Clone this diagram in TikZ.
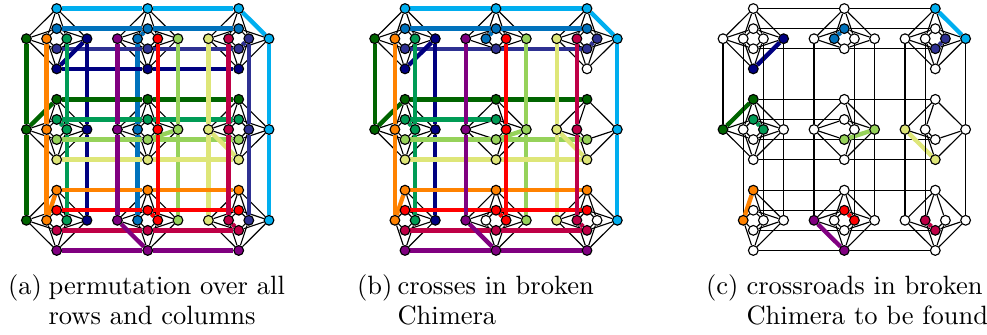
\documentclass[tikz,border=0pt]{standalone}
\usetikzlibrary{backgrounds}
\definecolor{csky}{RGB}{0,174,239}
\definecolor{cblue}{RGB}{0,114,188}
\definecolor{cindigo}{RGB}{46,49,146}
\definecolor{cnavy}{RGB}{0,0,128}
\definecolor{cdg}{RGB}{0,100,0}
\definecolor{cteal}{RGB}{0,155,85}
\definecolor{clg}{RGB}{150,210,90}
\definecolor{cyel}{RGB}{222,230,120}
\definecolor{corange}{RGB}{255,130,0}
\definecolor{cred}{RGB}{255,0,0}
\definecolor{ccrim}{RGB}{190,0,70}
\definecolor{cpurple}{RGB}{128,0,128}
\tikzset{
  qubit/.style={circle,draw=black,line width=0.42pt,minimum size=3.6pt,inner sep=0pt},
  thinline/.style={draw=black,line width=0.42pt},
  chainline/.style={line width=1.6pt,draw=#1},
  longa/.style={chainline=#1},
  longb/.style={chainline=#1},
  longc/.style={thinline},
  captext/.style={anchor=base west,inner sep=0pt,font=\fontsize{9.8}{12}\selectfont}
}
\newcommand\markset[2]{\foreach \k in {#2}{\expandafter\gdef\csname #1-\k\endcsname{}}}
\markset{bgone}{V-5-1,V-10-1,V-0-2,H-3-1,H-5-2}
\markset{cgone}{V-5-1,V-10-1,V-0-2,H-3-1,H-5-2,H-9-2}
\markset{bwhite}{V-5-2,V-10-2,H-3-2}
\expandafter\def\csname cdflt\endcsname{}
\newcommand\chainlist{csky/0/11/2/0,cblue/1/5/1/0,cindigo/2/10/2/0,cnavy/3/3/0/0,cdg/4/0/0/1,cteal/5/2/0/1,clg/6/7/1/1,cyel/7/8/2/1,corange/8/1/0/2,cred/9/6/1/2,ccrim/10/9/2/2,cpurple/11/4/1/2}
\foreach \col/\Y/\X/\c/\r in \chainlist {
  \expandafter\xdef\csname col-V-\X\endcsname{\col}
  \expandafter\xdef\csname col-H-\Y\endcsname{\col}
  \expandafter\gdef\csname cmark-V-\X-\r\endcsname{}
  \expandafter\gdef\csname cmark-H-\Y-\c\endcsname{}
}
\newcommand\qcolor[3]{%
  \ifcsname #1white-#2\endcsname\def\qc{white}\else
    \ifcsname #1dflt\endcsname
      \ifcsname cmark-#2\endcsname\edef\qc{\csname col-#3\endcsname}\else\def\qc{white}\fi
    \else\edef\qc{\csname col-#3\endcsname}\fi
  \fi}
\newcommand\seg[4]{%
  \ifcsname #1gone-#2\endcsname\else\ifcsname #1gone-#3\endcsname\else
    \draw[long#1=#4] (#1-#2) -- (#1-#3);\fi\fi}
\newcommand\drawpanel[2]{%
  \foreach \X in {0,...,11} \foreach \r in {0,1,2} {%
    \ifcsname #1gone-V-\X-\r\endcsname\else
      \qcolor{#1}{V-\X-\r}{V-\X}%
      \pgfmathsetmacro\px{#2+56.7+91*int(\X/4)-30.3+20.2*mod(\X,4)}%
      \pgfmathsetmacro\py{38.7+90.8*\r}%
      \node[qubit,fill=\qc] (#1-V-\X-\r) at (\px,\py) {};
    \fi}
  \foreach \Y in {0,...,11} \foreach \c in {0,1,2} {%
    \ifcsname #1gone-H-\Y-\c\endcsname\else
      \qcolor{#1}{H-\Y-\c}{H-\Y}%
      \pgfmathsetmacro\px{#2+56.7+91*\c}%
      \pgfmathsetmacro\py{38.7+90.8*int(\Y/4)-30.15+20.1*mod(\Y,4)}%
      \node[qubit,fill=\qc] (#1-H-\Y-\c) at (\px,\py) {};
    \fi}
  \begin{pgfonlayer}{background}
    \foreach \c in {0,1,2} \foreach \r in {0,1,2} \foreach \i in {0,...,3} \foreach \j in {0,...,3} {%
      \pgfmathtruncatemacro\X{4*\c+\i}%
      \pgfmathtruncatemacro\Y{4*\r+\j}%
      \ifcsname #1gone-V-\X-\r\endcsname\else\ifcsname #1gone-H-\Y-\c\endcsname\else
        \draw[thinline] (#1-V-\X-\r) -- (#1-H-\Y-\c);
      \fi\fi}
    \foreach \col/\Y/\X/\c/\r in \chainlist {%
      \seg{#1}{H-\Y-0}{H-\Y-1}{\col}%
      \seg{#1}{H-\Y-1}{H-\Y-2}{\col}%
      \seg{#1}{V-\X-0}{V-\X-1}{\col}%
      \seg{#1}{V-\X-1}{V-\X-2}{\col}%
      \draw[chainline=\col] (#1-V-\X-\r) -- (#1-H-\Y-\c);
    }
  \end{pgfonlayer}
}
\begin{document}
\begin{tikzpicture}[x=0.37pt,y=-0.37pt]
\useasboundingbox (0,0) rectangle (987,334);
\drawpanel{a}{0}
\drawpanel{b}{348.3}
\drawpanel{c}{696.6}
\node[captext] (capa0) at (7.5,294) {(a)};
\node[captext] (capa1) at (48,294) {permutation over all};
\node[captext] (capa2) at (48,324) {rows and columns};
\node[captext] (capb0) at (356.5,294) {(b)};
\node[captext] (capb1) at (397,294) {crosses in broken};
\node[captext] (capb2) at (397,324) {Chimera};
\node[captext] (capc0) at (705.5,294) {(c)};
\node[captext] (capc1) at (746,294) {crossroads in broken};
\node[captext] (capc2) at (746,324) {Chimera to be found};
\end{tikzpicture}
\end{document}
